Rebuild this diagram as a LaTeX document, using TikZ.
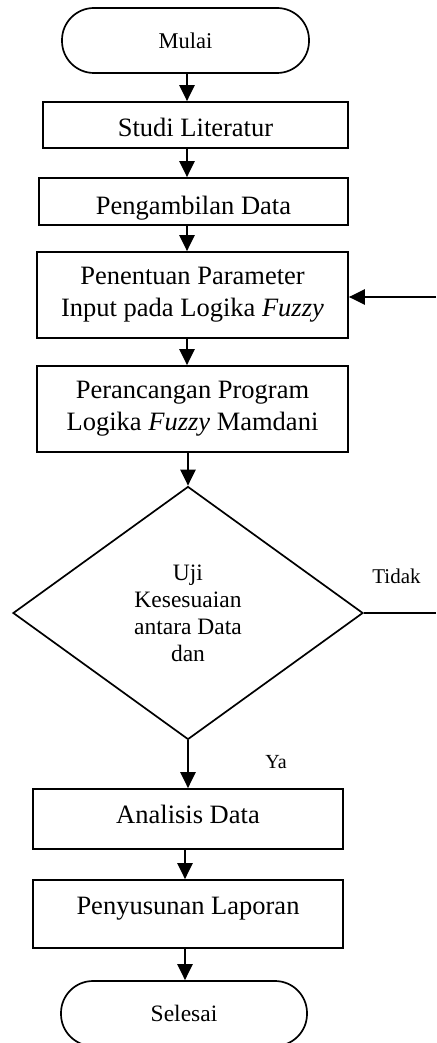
\documentclass[tikz,border=0pt]{standalone}
\usepackage{fontspec}
\setmainfont{Liberation Serif}
\usetikzlibrary{arrows.meta,shapes.geometric}
\begin{document}
\begin{tikzpicture}[x=1pt,y=-1pt,
  box/.style={draw, line width=1.7pt, inner sep=0pt, align=center,
    font=\fontsize{26.5}{32}\selectfont},
  term/.style={draw, line width=1.7pt, inner sep=0pt, rounded corners=32pt,
    minimum height=65pt},
  arr/.style={line width=2.3pt, -{Triangle[length=16pt,width=15pt]}},
  lbl/.style={inner sep=0pt, anchor=base}]
\useasboundingbox (0,0) rectangle (436,1043);

\node[term, minimum width=247pt, font=\fontsize{22.5}{27}\selectfont] (mulai) at (185.5,40.5) {Mulai};
\node[box, minimum width=305pt, minimum height=46pt, text height=24pt, text depth=0pt] (studi) at (195.5,125) {Studi Literatur};
\node[box, minimum width=309pt, minimum height=47pt, text height=25pt, text depth=0pt] (ambil) at (193.5,201.5) {Pengambilan Data};
\node[box, minimum width=311pt, minimum height=86pt] (tentu) at (192.5,295) {Penentuan Parameter\\Input pada Logika \textit{Fuzzy}};
\node[box, minimum width=311pt, minimum height=86pt] (rancang) at (192.5,409) {Perancangan Program\\Logika \textit{Fuzzy} Mamdani};
\node[draw, diamond, line width=1.7pt, inner sep=0pt, shape aspect=1.383,
  minimum width=350pt, minimum height=253pt, align=center,
  font=\fontsize{23.5}{27}\selectfont] (uji) at (188,613) {Uji\\Kesesuaian\\antara Data\\dan};
\node[box, minimum width=310pt, minimum height=60pt, text height=18pt, text depth=10pt] (analisis) at (188,819) {Analisis Data};
\node[box, minimum width=310pt, minimum height=68pt, text height=18pt, text depth=17pt] (susun) at (188,914) {Penyusunan Laporan};
\node[term, minimum width=246pt, font=\fontsize{23.5}{28}\selectfont] (selesai) at (184,1013.5) {Selesai};

\node[lbl, font=\fontsize{21}{25}\selectfont] (tidak) at (396.5,583) {Tidak};
\node[lbl, font=\fontsize{20}{24}\selectfont] (ya) at (276,768) {Ya};

\coordinate (c1) at (187,0);
\coordinate (c2) at (188,0);
\coordinate (c3) at (185,0);
\coordinate (fbA) at (436,613);
\coordinate (fbB) at (436,297);

\draw[arr] (c1 |- mulai.south) -- (c1 |- studi.north);
\draw[arr] (c1 |- studi.south) -- (c1 |- ambil.north);
\draw[arr] (c1 |- ambil.south) -- (c1 |- tentu.north);
\draw[arr] (c1 |- tentu.south) -- (c1 |- rancang.north);
\draw[arr] (c2 |- rancang.south) -- (uji.north);
\draw[arr] (uji.south) -- (c2 |- analisis.north);
\draw[arr] (c3 |- analisis.south) -- (c3 |- susun.north);
\draw[arr] (c3 |- susun.south) -- (c3 |- selesai.north);
\draw[line width=1.7pt] (uji.east) -- (fbA);
\draw[arr] (fbB) -- (tentu.east |- fbB);
\end{tikzpicture}
\end{document}
